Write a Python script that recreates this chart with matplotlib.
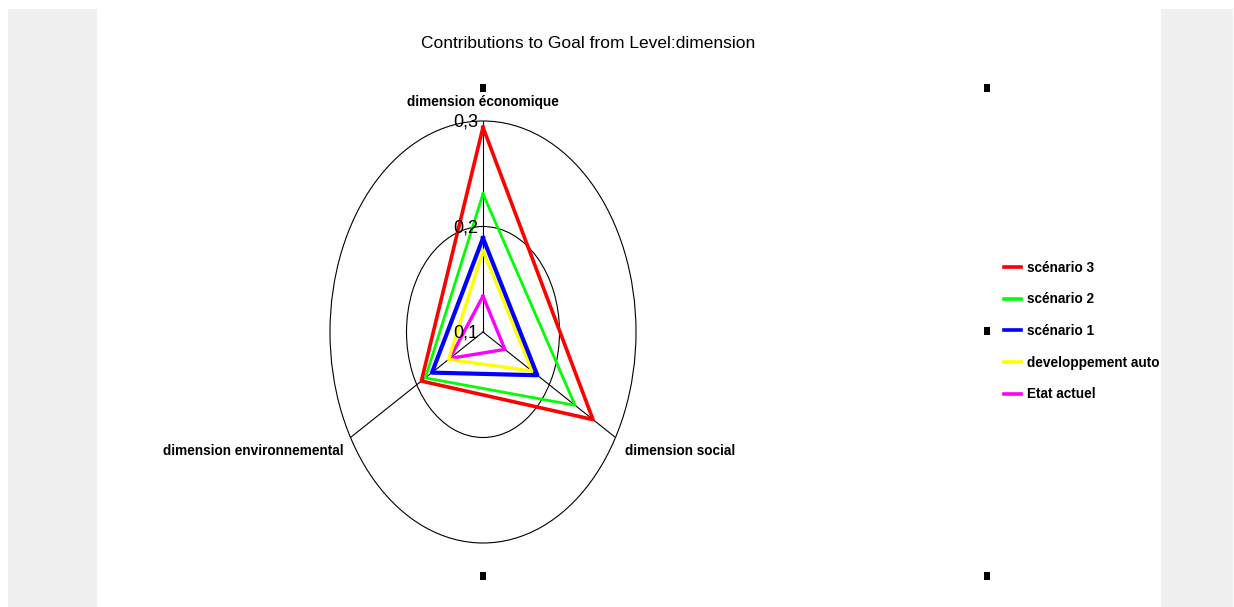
import numpy as np
import matplotlib
matplotlib.use("Agg")
import matplotlib.pyplot as plt
from matplotlib.patches import Rectangle
from matplotlib.lines import Line2D
import matplotlib.transforms as mtransforms

# ---------------- data ----------------
categories = ["dimension économique", "dimension social", "dimension environnemental"]
angles_deg = [90, 330, 210]
series_names = ["scénario 3", "scénario 2", "scénario 1", "developpement auto", "Etat actuel"]
scenario3 = [0.294, 0.266, 0.193]
scenario2 = [0.231, 0.239, 0.187]
scenario1 = [0.189, 0.182, 0.177]
dev_auto = [0.177, 0.174, 0.152]
etat_actuel = [0.134, 0.133, 0.150]
series_colors = ["#ff0000", "#00ff00", "#0000ff", "#ffff00", "#ff00ff"]
series_lw = [2.6, 2.0, 3.0, 2.4, 2.4]
r_ticks = [0.1, 0.2, 0.3]
r_tick_labels = ["0,1", "0,2", "0,3"]
title = "Contributions to Goal from Level:dimension"

W, H = 1234, 607
fig = plt.figure(figsize=(W / 100, H / 100), dpi=100)
fig.patch.set_facecolor("white")

def fx(x):
    return x / W

def fy(y):
    return 1 - y / H

# background panels
fig.patches.append(Rectangle((fx(8), 0), fx(97) - fx(8), fy(9), transform=fig.transFigure,
                             facecolor="#f0f0f0", edgecolor="none", zorder=0))
fig.patches.append(Rectangle((fx(1161), 0), fx(1233) - fx(1161), fy(9), transform=fig.transFigure,
                             facecolor="#f0f0f0", edgecolor="none", zorder=0))

# polar axes (stretched into an ellipse)
cx, cy = 483, 332
rx, ry = 153, 211
ax = fig.add_axes([fx(cx - rx), fy(cy + ry), (2 * rx) / W, (2 * ry) / H], projection="polar")
ax.set_facecolor("none")

theta = np.deg2rad(angles_deg + [angles_deg[0]])
all_series = [scenario3, scenario2, scenario1, dev_auto, etat_actuel]
handles = []
for i in reversed(range(len(all_series))):
    vals = all_series[i] + [all_series[i][0]]
    ax.plot(theta, vals, color=series_colors[i], linewidth=series_lw[i], zorder=3 + (5 - i))
for i in range(len(all_series)):
    handles.append(Line2D([], [], color=series_colors[i], linewidth=2.6))

ax.set_thetalim(0, 2 * np.pi)
ax.set_rlim(r_ticks[0], r_ticks[-1])
ax.set_autoscale_on(False)
ax.set_rgrids([r_ticks[1]], labels=[""])
ax.set_thetagrids(angles_deg, labels=["", "", ""])
ax.grid(True, color="black", linewidth=0.8, linestyle="-")
for name, sp in ax.spines.items():
    if name == "polar":
        sp.set_color("black")
        sp.set_linewidth(0.8)
        sp.set_capstyle("butt")
    else:
        sp.set_visible(False)
ax.tick_params(axis="both", length=0, width=0)
ax.set_aspect("auto")

sans = ["Liberation Sans", "DejaVu Sans"]

# radial tick labels
off = mtransforms.offset_copy(ax.transData, fig=fig, x=-5, y=-1, units="dots")
for r, lab in zip(r_ticks, r_tick_labels):
    ax.text(np.pi / 2, r, lab, transform=off, ha="right", va="center",
            fontsize=13, family=sans, color="black", zorder=10)

# category labels
fig.text(fx(483), fy(102), categories[0], ha="center", va="center",
         fontsize=9.8, family=sans, weight="bold")
fig.text(fx(625), fy(451), categories[1], ha="left", va="center",
         fontsize=9.8, family=sans, weight="bold")
fig.text(fx(344), fy(451), categories[2], ha="right", va="center",
         fontsize=9.8, family=sans, weight="bold")

# title
fig.text(fx(588), fy(44), title, ha="center", va="center", fontsize=12.5, family=sans)

# legend
leg = fig.legend(handles, series_names, loc="center left",
                 bbox_to_anchor=(fx(1004), fy(331)), frameon=False,
                 prop={"family": sans, "weight": "bold", "size": 9.8},
                 handlelength=1.25, handletextpad=0.45, labelspacing=1.3,
                 borderpad=0, borderaxespad=0)

# selection handles
for (sx, sy) in [(483, 88), (987, 88), (483, 576), (987, 576), (987, 331)]:
    fig.patches.append(Rectangle((fx(sx - 3), fy(sy + 4)), 6 / W, 8 / H,
                                 transform=fig.transFigure, facecolor="black",
                                 edgecolor="none", zorder=5))

fig.savefig("out.png", dpi=100, facecolor=fig.get_facecolor())
